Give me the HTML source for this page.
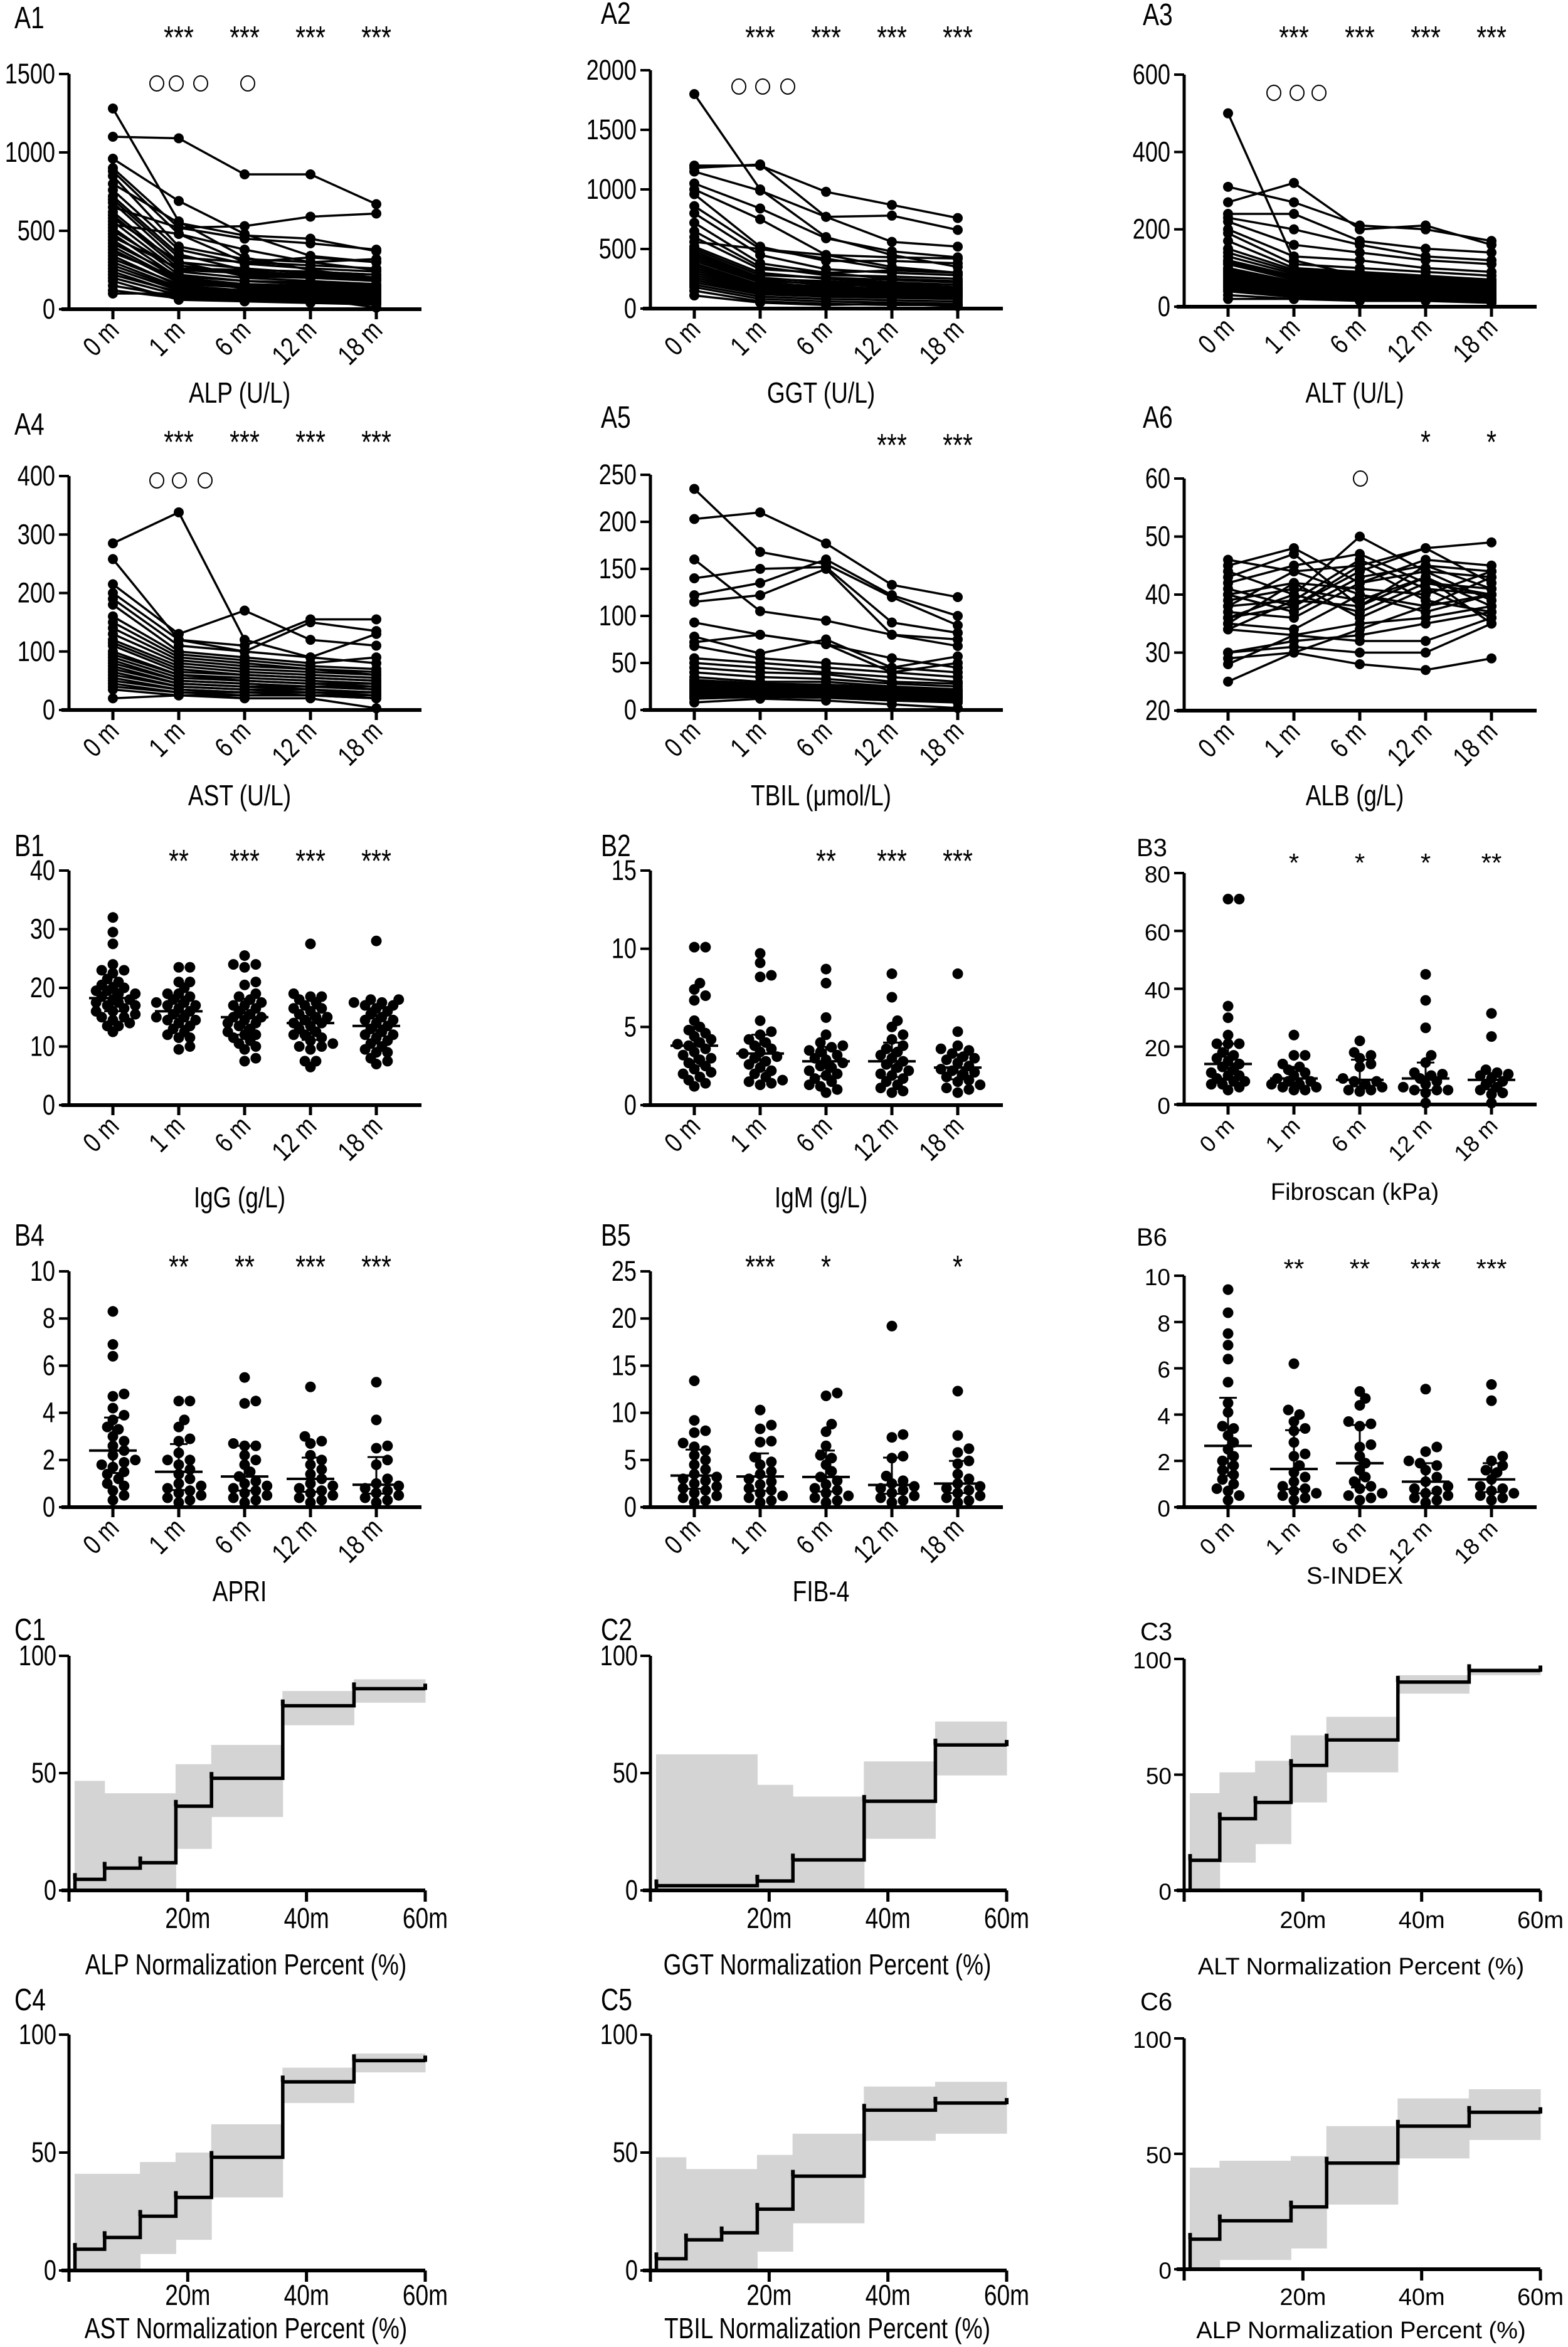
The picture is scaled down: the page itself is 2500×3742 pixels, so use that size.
<!DOCTYPE html>
<html><head><meta charset="utf-8">
<style>
html,body{margin:0;padding:0;background:#fff;}
svg{display:block;}
text{font-family:"Liberation Sans",sans-serif;fill:#000;}
</style></head>
<body>
<svg id="fig" width="2500" height="3742" viewBox="0 0 2500 3742" xmlns="http://www.w3.org/2000/svg"></svg>
<script>
// ---------- DATA ----------
const timeLabels = ["0 m","1 m","6 m","12 m","18 m"];
const alpLines = [[1280,560,330,250,200],[1100,1090,860,860,670],[960,690,480,340,300],[900,520,530,590,610],[880,480,300,280,260],[850,400,320,300,250],[800,550,470,450,370],[760,380,290,260,240],[720,350,250,240,220],[700,330,300,330,300],[680,300,260,230,200],[650,520,450,420,380],[620,280,220,200,180],[600,260,240,220,200],[580,300,210,200,190],[560,240,200,180,160],[540,480,380,300,320],[520,220,180,170,150],[500,250,230,210,200],[480,200,160,150,140],[460,260,250,240,220],[440,190,150,140,130],[420,210,180,160,150],[400,180,140,130,120],[380,170,160,150,140],[360,200,130,120,110],[340,150,120,110,100],[320,160,140,130,120],[300,140,110,100,90],[280,130,100,90,80],[260,120,90,80,70],[240,100,80,70,60],[220,110,90,80,70],[200,90,70,60,50],[180,60,50,40,30],[150,80,60,50,40],[120,70,50,60,50],[100,100,90,70,10]];
const ggtLines = [[1800,1000,600,450,350],[1200,1200,980,870,760],[1180,1210,770,780,660],[1150,990,770,560,520],[1050,840,590,480,430],[1000,750,450,350,300],[960,520,400,400,380],[860,500,420,330,300],[800,450,330,300,280],[720,380,300,250,230],[650,350,280,270,250],[600,330,300,320,300],[560,500,450,430,420],[520,300,250,220,200],[500,280,260,240,220],[480,260,220,200,180],[460,250,230,210,200],[440,240,200,190,170],[420,230,210,180,160],[400,220,180,170,150],[380,200,190,160,140],[360,190,170,150,140],[340,180,150,140,130],[320,170,160,140,120],[300,160,140,130,110],[280,150,130,120,100],[260,140,120,110,100],[240,130,110,100,90],[220,120,100,90,80],[200,100,80,70,60],[180,80,60,50,40],[150,60,40,30,30],[110,50,30,40,20]];
const altLines = [[500,120,80,60,50],[310,270,210,200,170],[270,320,200,210,160],[240,240,170,150,140],[230,200,160,130,120],[220,160,140,120,110],[200,130,120,100,90],[190,110,100,90,80],[170,100,90,80,70],[150,95,85,75,70],[140,90,80,70,60],[130,85,75,70,65],[120,80,70,65,60],[115,75,65,60,55],[110,70,60,55,50],[100,65,60,50,45],[95,60,55,50,40],[90,55,50,45,40],[85,50,45,40,35],[80,50,40,40,35],[75,45,40,35,30],[70,40,35,30,30],[65,40,35,30,25],[60,35,30,30,25],[55,30,30,25,20],[50,30,25,25,20],[45,25,25,20,20],[40,25,20,20,15],[30,20,20,20,15],[20,20,15,15,10]];
const astLines = [[285,338,120,90,80],[258,120,100,90,130],[215,130,170,120,110],[200,120,110,155,155],[190,110,100,150,135],[180,100,90,80,90],[160,95,85,75,70],[150,90,80,70,65],[140,85,75,70,60],[130,80,70,65,60],[120,75,65,60,55],[115,70,60,55,50],[110,65,60,55,50],[100,60,55,50,45],[95,60,50,45,45],[90,55,50,45,40],[85,50,45,40,40],[80,50,45,40,35],[75,45,40,40,35],[70,45,40,35,30],[65,40,35,35,30],[60,40,35,30,30],[55,35,30,30,25],[50,35,30,30,25],[45,30,30,25,25],[40,30,25,25,20],[35,25,25,25,20],[20,25,20,20,3]];
const tbilLines = [[235,168,155,120,90],[203,210,177,133,120],[160,105,95,80,75],[140,150,152,93,82],[122,135,160,122,100],[115,122,150,80,68],[93,80,70,55,45],[78,60,75,45,57],[72,80,70,40,50],[68,55,50,45,40],[55,50,45,40,35],[50,45,40,35,30],[45,40,38,30,28],[40,35,33,28,25],[35,30,30,25,22],[32,28,27,24,20],[30,26,25,22,20],[28,25,24,21,18],[26,24,22,20,17],[24,22,21,19,16],[22,20,20,18,15],[20,19,18,17,14],[18,18,17,15,13],[16,16,15,14,12],[14,15,14,12,10],[12,14,13,10,8],[8,12,10,6,2]];
const albLines = [[46,44,45,48,49],[45,48,42,46,45],[44,40,50,44,43],[43,47,38,45,44],[42,45,47,42,40],[41,38,44,48,42],[40,42,41,40,44],[40,37,43,45,41],[39,41,39,43,38],[38,39,46,41,40],[38,44,40,38,43],[37,36,42,44,39],[36,40,37,42,41],[36,38,45,39,37],[35,42,36,41,36],[35,34,40,37,40],[34,39,38,43,35],[34,33,35,36,38],[30,32,33,35,37],[30,31,30,30,35],[29,30,28,27,29],[28,33,32,32,36],[25,30,34,38,40]];
const iggGroups = [[32,29.5,27.5,24,23,23,22.5,21.5,21,20.5,20,20,19.5,19.5,19,19,18.5,18,18,17.5,17.5,17,17,16.5,16,16,15.5,15,15,14.5,14,13.5,13.5,12.5],[23.5,23.5,21,21,20,19,19,18.5,18,17.5,17.5,17,17,16.5,16,15.5,15,15,14.5,14.5,14,13.5,13,12.5,12,11.5,11.5,10,9.5],[25.5,24,24,23.5,21,20.5,19,18.5,18,17.5,17,17,16.5,16,15.5,15,15,14.5,14,14,13.5,13,12.5,12,12,11.5,11,10.5,10,9.5,8,7.5],[27.5,19,18.5,18.5,18,17.5,17,16.5,16.5,16,15.5,15,15,14.5,14,14,13.5,13,12.5,12,12,11.5,11,10.5,10,10,9.5,7.5,7.5,6.5],[28,18,18,17.5,17.5,17,17,16.5,16,15.5,15,14.5,14.5,14,13.5,13,12.5,12,12,11.5,11,10.5,10,9.5,9,9,8,7.5,7]];
const igmGroups = [[10.1,10.1,7.8,7.4,7,6.7,5.4,5,4.8,4.6,4.4,4.2,4,3.9,3.8,3.6,3.4,3.2,3,2.9,2.7,2.5,2.3,2.1,2,1.8,1.6,1.4,1.2],[9.7,9.1,8.3,8.2,5.4,4.7,4.5,4.2,4,3.8,3.6,3.4,3.3,3.1,3,2.8,2.6,2.4,2.2,2,1.8,1.6,1.5,1.4,1.3],[8.7,7.8,5.6,4.5,4,3.8,3.7,3.5,3.4,3.2,3,2.9,2.7,2.5,2.4,2.2,2,1.9,1.7,1.5,1.3,1.2,1,0.8],[8.4,6.9,5.4,5,4.5,4.2,3.8,3.6,3.4,3.2,3,2.8,2.6,2.4,2.2,2,1.9,1.7,1.5,1.3,1.1,0.9,0.8],[8.4,4.7,3.8,3.6,3.5,3.3,3.1,3,2.9,2.7,2.5,2.3,2.2,2.1,2,1.8,1.6,1.5,1.3,1.1,1,0.8]];
const fibroGroups = [[71,71,34,30,24,21,21,21,18,17,16,15,14,13,12,11,10,10,9,8,8,7,7,6,5],[24,17,17,14,13,12,11,10,9,8,8,7,7,6,6,5,5],[22,18,17,16,14,13,9,8,8,7,6,5,5,4.5],[45,36,26.5,17,14.5,11,10.5,10,9,8,7,6,5,5,5,4,0.5],[31.5,23.5,12,11,10.5,10,9,8,7,6,5,4,3.5,0.5]];
const apriGroups = [[8.3,6.9,6.4,4.8,4.7,4.2,3.9,3.7,3.4,3.3,3,2.8,2.6,2.4,2.2,2,1.9,1.8,1.7,1.5,1.4,1.2,1,0.9,0.7,0.5,0.3],[4.5,4.5,3.7,3.4,2.9,2.8,2.3,2,2,1.8,1.6,1.4,1.2,1,0.9,0.8,0.7,0.6,0.5,0.4,0.3,0.2],[5.5,4.5,4.4,2.7,2.6,2.6,2.2,2,1.8,1.5,1.3,1.1,1,0.9,0.8,0.7,0.6,0.5,0.4,0.3,0.2],[5.1,3,2.8,2.7,2.2,2,1.8,1.6,1.4,1.2,1,0.9,0.8,0.7,0.6,0.5,0.4,0.3,0.2],[5.3,3.7,2.6,2.5,2,1.8,1.2,1,0.9,0.8,0.7,0.6,0.5,0.4,0.3,0.2]];
const fib4Groups = [[13.4,9.2,8.1,7.9,6.8,6.4,6,5.5,5,4.5,4,3.5,3.2,3,2.8,2.5,2.2,2,1.8,1.5,1.2,1,0.7,0.5],[10.3,8.7,8.3,7,6.9,5.3,4.8,4.5,3.8,3.5,3,2.7,2.4,2,1.8,1.5,1.2,1,0.7,0.5],[12.1,11.8,8.8,8,6.5,5.5,5.2,4.5,3.8,3.2,2.8,2.4,2,1.8,1.5,1.2,1,0.7,0.5],[19.2,7.7,7.4,5.4,5.2,3.3,2.8,2.5,2.2,2,1.8,1.5,1.2,1,0.7,0.5],[12.3,7.6,6.2,5.8,4.9,4.6,3.5,3,2.5,2.2,2,1.8,1.5,1.2,1,0.7,0.5]];
const sindexGroups = [[9.4,8.4,7.5,7,6.4,5.4,4.5,4.1,3.5,3.4,3.1,2.8,2.5,2.2,2,1.8,1.6,1.4,1.2,1,0.8,0.7,0.5,0.3],[6.2,4.2,4,3.7,3.4,3.3,2.8,2.3,2.2,1.8,1.5,1.3,1.1,0.9,0.8,0.7,0.6,0.5,0.4,0.3],[5,4.7,4.4,3.7,3.6,3.5,2.7,2.6,2.2,1.9,1.6,1.3,1.1,0.9,0.8,0.6,0.5,0.4,0.3],[5.1,2.6,2.4,2,1.9,1.8,1.6,1.3,1.1,0.9,0.8,0.7,0.6,0.5,0.4,0.3,0.2],[5.3,4.6,2.2,2,1.8,1.6,1.5,1.2,0.9,0.8,0.7,0.6,0.5,0.4,0.3]];
const stepBreaks = [1,6,12,18,24,36,48,60];
const c1Est=[4.7,9.5,11.8,35.9,47.8,78.7,86], c1Up=[46.7,41.4,41.4,53.8,62,85,90], c1Lo=[0,0,0,17.7,31.3,70.4,80];
const c2Est=[2,2,2,4,13,38,62], c2Up=[58,58,58,45,40,55,72], c2Lo=[0,0,0,0,0,22,49];
const c3Est=[13,31,38,54,65,90,95], c3Up=[42,51,56,67,75,93,96], c3Lo=[0,12,20,38,51,85,93];
const c4Est=[9,14,23,31,48,80,89], c4Up=[41,41,46,50,62,86,92], c4Lo=[0,0,7,13,31,71,84];
const c5Est=[5,13,16,26,40,68,71], c5Up=[48,43,43,49,58,78,80], c5Lo=[0,0,0,8,20,55,58];
const c6Est=[13,21,21,27,46,62,68], c6Up=[44,47,47,49,62,74,78], c6Lo=[0,4,4,9,28,48,56];

// ---------- DRAWING ----------
const NS="http://www.w3.org/2000/svg";
const svg=document.getElementById('fig');
let curWide=false;
function mk(tag,attrs,parent){const e=document.createElementNS(NS,tag);for(const k in attrs)e.setAttribute(k,attrs[k]);(parent||svg).appendChild(e);return e;}
function txt(s,x,y,size,anchor,parent,rot){
  const sx=curWide?1:0.8;
  let tr=`translate(${x},${y})`;
  if(rot)tr+=` rotate(${rot})`;
  tr+=` scale(${sx},1)`;
  const t=mk('text',{x:0,y:0,'font-size':size,'text-anchor':anchor||'start',transform:tr},parent);
  t.textContent=s;return t;}

const colX=[110,1037,1888];
function panelGroup(name,wide){curWide=wide;const g=mk('g',{});return g;}
function fs(n){return curWide?n:n*1.22;}

function axesCat(g,ax,top,bot,min,max,ticks,title,titleY){
  const y=v=>bot-(v-min)/(max-min)*(bot-top);
  const l1=mk('line',{x1:ax,y1:top,x2:ax,y2:bot+2,stroke:'#000','stroke-width':5},g);
  
  
  const l2=mk('line',{x1:ax-12,y1:bot,x2:ax+562,y2:bot,stroke:'#000','stroke-width':6},g);
  
  
  ticks.forEach(v=>{mk('line',{x1:ax-16,y1:y(v),x2:ax,y2:y(v),stroke:'#000','stroke-width':4},g);
    const t=txt(String(v),ax-22,y(v)+15,fs(37),'end',g);
    
    });
  timeLabels.forEach((s,i)=>{const tx=ax+70+i*105;
    mk('line',{x1:tx,y1:bot,x2:tx,y2:bot+16,stroke:'#000','stroke-width':5},g);
    const t=txt(s,tx+12,bot+36,fs(36),'end',g,-45);
    
    });
  const tt=txt(title,ax+272,titleY,fs(38),'middle',g);
  
  
  return y;
}
function label(g,s,x,y){const t=txt(s,x,y,fs(40),'start',g);}
function stars(g,ax,list,y){list.forEach((s,i)=>{if(!s)return;const t=txt(s,ax+70+i*105,y+22,fs(42),'middle',g);});}
function circles(g,xs,y){xs.forEach(x=>{const c=mk('ellipse',{cx:x,cy:y,rx:11,ry:12,fill:'none',stroke:'#000','stroke-width':2},g);});}

function linePanel(name,lab,col,top,bot,min,max,ticks,title,titleY,data,st,starY,circ,circY,labY){
  const ax=colX[col];const g=panelGroup(name,false);
  label(g,lab,col===0?23:(col===1?958:1822),labY);
  const y=axesCat(g,ax,top,bot,min,max,ticks,title,titleY);
  data.forEach(row=>{
    const pts=row.map((v,i)=>`${ax+70+i*105},${y(v)}`).join(' ');
    const p=mk('polyline',{points:pts,fill:'none',stroke:'#000','stroke-width':3.5},g);
    
    
    row.forEach((v,i)=>{const c=mk('circle',{cx:ax+70+i*105,cy:y(v),r:8,fill:'#000'},g);
      
      });
  });
  stars(g,ax,st,starY);
  circles(g,circ.map(d=>ax+d),circY);
}
function quant(a,q){const s=[...a].sort((x,y)=>x-y);const p=(s.length-1)*q;const lo=Math.floor(p),hi=Math.ceil(p);return s[lo]+(s[hi]-s[lo])*(p-lo);}
function scatterPanel(name,lab,col,top,bot,min,max,ticks,title,titleY,groups,st,starY,labY,wide){
  const ax=colX[col];const g=panelGroup(name,wide);
  label(g,lab,col===0?23:(col===1?958:1812),labY);
  const y=axesCat(g,ax,top,bot,min,max,ticks,title,titleY);
  const r=8.5;
  groups.forEach((vals,gi)=>{
    const cx=ax+70+gi*105;const placed=[];
    [...vals].sort((a,b)=>a-b).forEach(v=>{
      const py=y(v);let best=0,bestD=-1;
      for(let k=0;k<9;k++){const o=(k%2?1:-1)*Math.ceil(k/2)*r*1.05;
        const d=Math.min(999,...placed.map(p=>Math.hypot(p[0]-(cx+o),p[1]-py)));
        if(d>=r*1.5){best=o;bestD=d;break;}
        if(d>bestD){bestD=d;best=o;}}
      placed.push([cx+best,py]);
      const c=mk('circle',{cx:cx+best,cy:py,r:r,fill:'#000'},g);
      
      
    });
    const med=y(quant(vals,0.5)),q1=y(quant(vals,0.25)),q3=y(quant(vals,0.75));
    const m=mk('line',{x1:cx-38,y1:med,x2:cx+38,y2:med,stroke:'#000','stroke-width':4},g);
    
    
    mk('line',{x1:cx,y1:q1,x2:cx,y2:q3,stroke:'#000','stroke-width':3},g);
    mk('line',{x1:cx-14,y1:q3,x2:cx+14,y2:q3,stroke:'#000','stroke-width':3},g);
    mk('line',{x1:cx-14,y1:q1,x2:cx+14,y2:q1,stroke:'#000','stroke-width':3},g);
  });
  stars(g,ax,st,starY);
}
function stepPanel(name,lab,col,top,bot,est,up,lo,title,tickY,titleY,labY,wide){
  const ax=colX[col];const g=panelGroup(name,wide);
  label(g,lab,col===0?23:(col===1?958:1818),labY);
  const x=m=>ax+m/60*568;const y=v=>bot-v/100*(bot-top);
  for(let i=0;i<est.length;i++){
    const b=mk('rect',{x:x(stepBreaks[i])-0.5,y:y(up[i]),width:x(stepBreaks[i+1])-x(stepBreaks[i])+1,height:y(lo[i])-y(up[i]),fill:'#d4d4d4'},g);
    
    
  }
  const yl=mk('line',{x1:ax,y1:top,x2:ax,y2:bot+18,stroke:'#000','stroke-width':5},g);
  
  
  const xl=mk('line',{x1:ax-12,y1:bot,x2:x(60),y2:bot,stroke:'#000','stroke-width':6},g);
  
  
  [0,50,100].forEach(v=>{mk('line',{x1:ax-16,y1:y(v),x2:ax,y2:y(v),stroke:'#000','stroke-width':4},g);
    const t=txt(String(v),ax-20,y(v)+15,fs(37),'end',g);
    
    });
  [20,40,60].forEach(v=>{mk('line',{x1:x(v),y1:bot,x2:x(v),y2:bot+18,stroke:'#000','stroke-width':5},g);
    const t=txt(v+'m',x(v),tickY+15,fs(38),'middle',g);
    
    });
  let d=`M${x(stepBreaks[0])},${bot}`;
  for(let i=0;i<est.length;i++){d+=` L${x(stepBreaks[i])},${y(est[i])} L${x(stepBreaks[i+1])},${y(est[i])}`;}
  const p=mk('path',{d:d,fill:'none',stroke:'#000','stroke-width':5.5},g);
  
  
  for(let i=0;i<est.length;i++){if(i>0&&est[i]===est[i-1])continue;mk('line',{x1:x(stepBreaks[i]),y1:y(est[i])-10,x2:x(stepBreaks[i]),y2:y(est[i]),stroke:'#000','stroke-width':6},g);}
  mk('line',{x1:x(60),y1:y(est[est.length-1])-8,x2:x(60),y2:y(est[est.length-1])+2,stroke:'#000','stroke-width':6},g);
  const tt=txt(title,ax+282,titleY+15,fs(38),'middle',g);
  
  
}

linePanel('panel-a1-alp','A1',0,118,493,0,1500,[0,500,1000,1500],'ALP (U/L)',642,alpLines,[null,'***','***','***','***'],55,[140,171,210,285],133,45);
linePanel('panel-a2-ggt','A2',1,112,492,0,2000,[0,500,1000,1500,2000],'GGT (U/L)',642,ggtLines,[null,'***','***','***','***'],55,[141,179,219],138,38);
linePanel('panel-a3-alt','A3',2,119,489,0,600,[0,200,400,600],'ALT (U/L)',642,altLines,[null,'***','***','***','***'],55,[143,180,215],148,40);
linePanel('panel-a4-ast','A4',0,759,1132,0,400,[0,100,200,300,400],'AST (U/L)',1284,astLines,[null,'***','***','***','***'],700,[140,176,217],766,693);
linePanel('panel-a5-tbil','A5',1,757,1132,0,250,[0,50,100,150,200,250],'TBIL (μmol/L)',1284,tbilLines,[null,null,null,'***','***'],705,[],0,682);
linePanel('panel-a6-alb','A6',2,763,1133,20,60,[20,30,40,50,60],'ALB (g/L)',1284,albLines,[null,null,null,'*','*'],700,[281],763,682);
scatterPanel('panel-b1-igg','B1',0,1388,1762,0,40,[0,10,20,30,40],'IgG (g/L)',1925,iggGroups,[null,'**','***','***','***'],1368,1365,false);
scatterPanel('panel-b2-igm','B2',1,1388,1762,0,15,[0,5,10,15],'IgM (g/L)',1925,igmGroups,[null,null,'**','***','***'],1368,1365,false);
scatterPanel('panel-b3-fibroscan','B3',2,1392,1761,0,80,[0,20,40,60,80],'Fibroscan (kPa)',1913,fibroGroups,[null,'*','*','*','**'],1368,1365,true);
scatterPanel('panel-b4-apri','B4',0,2027,2403,0,10,[0,2,4,6,8,10],'APRI',2553,apriGroups,[null,'**','**','***','***'],2015,1986,false);
scatterPanel('panel-b5-fib4','B5',1,2027,2403,0,25,[0,5,10,15,20,25],'FIB-4',2553,fib4Groups,[null,'***','*',null,'*'],2015,1986,false);
scatterPanel('panel-b6-sindex','B6',2,2034,2403,0,10,[0,2,4,6,8,10],'S-INDEX',2525,sindexGroups,[null,'**','**','***','***'],2015,1986,true);
stepPanel('panel-c1-alp-normalization','C1',0,2640,3014,c1Est,c1Up,c1Lo,'ALP Normalization Percent (%)',3059,3133,2615,false);
stepPanel('panel-c2-ggt-normalization','C2',1,2640,3014,c2Est,c2Up,c2Lo,'GGT Normalization Percent (%)',3059,3133,2615,false);
stepPanel('panel-c3-alt-normalization','C3',2,2645,3014,c3Est,c3Up,c3Lo,'ALT Normalization Percent (%)',3059,3133,2615,true);
stepPanel('panel-c4-ast-normalization','C4',0,3244,3620,c4Est,c4Up,c4Lo,'AST Normalization Percent (%)',3660,3713,3205,false);
stepPanel('panel-c5-tbil-normalization','C5',1,3244,3620,c5Est,c5Up,c5Lo,'TBIL Normalization Percent (%)',3660,3713,3205,false);
stepPanel('panel-c6-alp-normalization','C6',2,3250,3618,c6Est,c6Up,c6Lo,'ALP Normalization Percent (%)',3660,3713,3205,true);
</script>
</body></html>
